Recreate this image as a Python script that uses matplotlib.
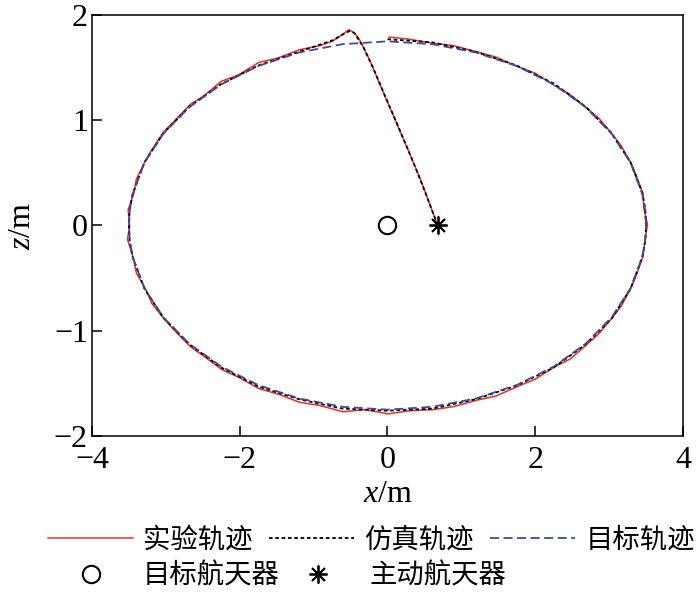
import matplotlib
matplotlib.use('Agg')
import matplotlib.pyplot as plt

plt.rcParams['font.family'] = ['Liberation Serif', 'DejaVu Serif']
plt.rcParams['mathtext.fontset'] = 'custom'
plt.rcParams['mathtext.it'] = 'Liberation Serif:italic'
plt.rcParams['mathtext.rm'] = 'Liberation Serif'

# target (desired) fly-around ellipse
target_x = [3.5, 3.487, 3.447, 3.289, 3.031, 2.681, 2.25, 1.75, 1.197, 0.608, 0.0,
            -0.608, -1.197, -1.75, -2.25, -2.681, -3.031, -3.289, -3.447, -3.487,
            -3.5, -3.487, -3.447, -3.289, -3.031, -2.681, -2.25, -1.75, -1.197,
            -0.608, 0.0, 0.608, 1.197, 1.75, 2.25, 2.681, 3.031, 3.289, 3.447,
            3.487, 3.5]
target_z = [0.0, 0.153, 0.304, 0.599, 0.875, 1.125, 1.341, 1.516, 1.644, 1.723, 1.75,
            1.723, 1.644, 1.516, 1.341, 1.125, 0.875, 0.599, 0.304, 0.153,
            0.0, -0.153, -0.304, -0.599, -0.875, -1.125, -1.341, -1.516, -1.644,
            -1.723, -1.75, -1.723, -1.644, -1.516, -1.341, -1.125, -0.875, -0.599,
            -0.304, -0.153, 0.0]

# experiment trajectory (approach + fly-around)
exp_x = [0.68, 0.60, 0.52, 0.44, 0.35, 0.26, 0.16, 0.07, -0.03, -0.12, -0.19, -0.26,
         -0.33, -0.39, -0.45, -0.52, -0.58, -0.66, -0.75,
         -0.91, -1.19, -1.49, -1.74, -2.02, -2.25, -2.49, -2.67, -2.89, -3.03, -3.19,
         -3.28, -3.40, -3.43, -3.51, -3.49, -3.52, -3.44, -3.40, -3.27, -3.19, -3.02,
         -2.88, -2.67, -2.49, -2.24, -2.02, -1.74, -1.49, -1.19, -0.92, -0.60, -0.31,
         0.01, 0.30, 0.62, 0.90, 1.21, 1.47, 1.76, 2.00, 2.27, 2.47, 2.70, 2.86, 3.05,
         3.16, 3.30, 3.37, 3.46, 3.48, 3.52, 3.47, 3.46, 3.37, 3.30, 3.16, 3.04, 2.86,
         2.69, 2.46, 2.26, 1.99, 1.76, 1.47, 1.21, 0.89, 0.62, 0.30, 0.02]
exp_z = [0.00, 0.15, 0.30, 0.45, 0.60, 0.75, 0.91, 1.06, 1.22, 1.37, 1.49, 1.60,
         1.70, 1.78, 1.83, 1.86, 1.83, 1.79, 1.75,
         1.71, 1.67, 1.59, 1.55, 1.43, 1.37, 1.23, 1.15, 0.99, 0.89, 0.72,
         0.61, 0.44, 0.31, 0.15, -0.01, -0.13, -0.31, -0.45, -0.61, -0.74, -0.89,
         -1.00, -1.15, -1.24, -1.37, -1.44, -1.55, -1.60, -1.68, -1.71, -1.77, -1.75,
         -1.79, -1.76, -1.75, -1.72, -1.66, -1.62, -1.53, -1.46, -1.34, -1.27, -1.13,
         -1.03, -0.87, -0.77, -0.59, -0.47, -0.29, -0.16, 0.01, 0.16, 0.30, 0.47, 0.59,
         0.76, 0.87, 1.02, 1.12, 1.25, 1.33, 1.45, 1.51, 1.60, 1.65, 1.71, 1.73, 1.77,
         1.79]

# simulation trajectory
sim_x = [0.68, 0.52, 0.35, 0.17, -0.02, -0.19, -0.33, -0.45, -0.51, -0.62, -0.74,
         -1.20, -1.75, -2.26, -2.68, -3.03, -3.29, -3.45, -3.49, -3.50, -3.49, -3.45,
         -3.29, -3.03, -2.68, -2.25, -1.75, -1.20, -0.61, 0.0, 0.61, 1.20, 1.75, 2.25,
         2.68, 3.04, 3.29, 3.45, 3.49, 3.50, 3.49, 3.45, 3.29, 3.03, 2.68, 2.25, 1.75,
         1.20, 0.61, 0.0]
sim_z = [0.00, 0.30, 0.60, 0.90, 1.21, 1.49, 1.70, 1.83, 1.85, 1.81, 1.76,
         1.65, 1.52, 1.34, 1.13, 0.88, 0.60, 0.30, 0.15, 0.0, -0.15, -0.30,
         -0.60, -0.88, -1.13, -1.35, -1.53, -1.65, -1.74, -1.76, -1.74, -1.65, -1.52,
         -1.35, -1.13, -0.88, -0.60, -0.30, -0.15, 0.0, 0.15, 0.31, 0.60, 0.88, 1.13,
         1.35, 1.52, 1.65, 1.74, 1.77]

target_sc = (0.0, 0.0)
active_sc = (0.68, 0.0)

fig = plt.figure(figsize=(7.0, 5.96), dpi=100)
ax = fig.add_axes([0.1314, 0.2685, 0.8443, 0.7063])

l1, = ax.plot(exp_x, exp_z, color='#e8302a', lw=1.1)
l2, = ax.plot(sim_x, sim_z, color='black', lw=1.3, dashes=(2, 1.5))
l3, = ax.plot(target_x, target_z, color='#3b4a9c', lw=1.3, dashes=(5, 2.5))
m1, = ax.plot([target_sc[0]], [target_sc[1]], ls='none', marker='o', ms=12.5,
              mfc='white', mec='black', mew=1.5)
m2, = ax.plot([active_sc[0]], [active_sc[1]], ls='none', marker=(8, 2, 0), ms=13,
              color='black', mew=1.3)

ax.set_xlim(-4, 4)
ax.set_ylim(-2, 2)
ax.set_xticks([-4, -2, 0, 2, 4])
ax.set_yticks([-2, -1, 0, 1, 2])
ax.set_xticklabels(['\u22124', '\u22122', '0', '2', '4'])
ax.set_yticklabels(['\u22122', '\u22121', '0', '1', '2'])
ax.tick_params(direction='in', length=7, width=1.1, labelsize=23)
ax.tick_params(axis='x', pad=7)
ax.tick_params(axis='y', pad=3)
for s in ax.spines.values():
    s.set_linewidth(1.1)
ax.set_xlabel('$x$/m', fontsize=23, labelpad=4)
ax.set_ylabel('$z$/m', fontsize=23, labelpad=12)

cjk = {'family': ['Noto Sans CJK SC', 'DejaVu Sans'], 'size': 19.7}
leg1 = fig.legend([l1, l2, l3], ['实验轨迹', '仿真轨迹', '目标轨迹'], ncol=3,
                  loc='center left', bbox_to_anchor=(0.0686, 0.094), frameon=False,
                  prop=cjk, handlelength=3.11, handletextpad=0.366,
                  columnspacing=0.6, borderpad=0, borderaxespad=0)
leg2 = fig.legend([m1, m2], ['目标航天器', '主动航天器'], ncol=2,
                  loc='center left', bbox_to_anchor=(0.0686, 0.034), frameon=False,
                  prop=cjk, handlelength=3.14, handletextpad=0.33,
                  columnspacing=-0.18, borderpad=0, borderaxespad=0)

fig.savefig('out.png', dpi=100)
